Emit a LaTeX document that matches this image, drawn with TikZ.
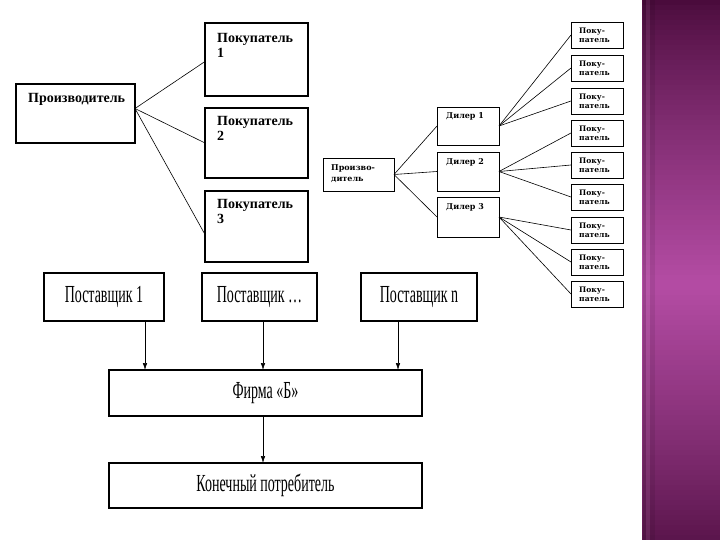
\documentclass[tikz,border=0pt]{standalone}
\usepackage{fontspec}
\setmainfont{Liberation Serif}
\newfontfamily\dvs{DejaVu Serif}
\usetikzlibrary{arrows.meta,calc}
\definecolor{bandDark}{RGB}{72,10,58}
\definecolor{bandBright}{RGB}{180,76,164}
\tikzset{
  box/.style={draw, line width=1.1pt, inner sep=0pt, outer sep=0pt, anchor=north west},
  sbox/.style={draw, line width=0.8pt, inner sep=0pt, outer sep=0pt, anchor=north west, minimum width=52pt, minimum height=26pt},
  conn/.style={line width=0.6pt},
  arr/.style={line width=0.6pt, -{Latex[length=7pt,width=4.5pt]}},
  bigtxt/.style={inner sep=0pt, anchor=north west, align=left, font=\fontsize{14}{15}\selectfont\bfseries},
  midtxt/.style={inner sep=0pt, anchor=north west, align=left, font=\dvs\fontsize{8}{11.5}\selectfont\bfseries},
  smtxt/.style={inner sep=0pt, anchor=north west, align=left, font=\dvs\fontsize{7.6}{9}\selectfont\bfseries},
  lowbox/.style={draw, line width=1.1pt, inner sep=0pt, outer sep=0pt, anchor=north west, minimum height=48pt, font=\fontsize{14}{14}\selectfont}
}
\newcommand{\tall}[1]{\scalebox{1.0}[1.75]{#1}}
\begin{document}
\begin{tikzpicture}[x=1pt,y=-1pt]
\useasboundingbox (0,0) rectangle (720,540);
\fill[white] (0,0) rectangle (720,540);
% purple band
\foreach \i in {0,...,107}{
  \pgfmathsetmacro{\p}{max(0,100*(1-abs(\i*5+2.5-285)/285)^0.8)}
  \fill[bandBright!\p!bandDark] (642,\i*5) rectangle (720,\i*5+5.4);
}
\fill[black,opacity=0.12] (643,0) rectangle (646,540);
\fill[white,opacity=0.06] (646,0) rectangle (650,540);
\fill[black,opacity=0.08] (650,0) rectangle (655,540);

% ---- left top diagram ----
\node[box, minimum width=119pt, minimum height=59pt] (P) at (16,84) {};
\node[bigtxt] (Pt) at (28,93) {Производитель};
\node[box, minimum width=103pt, minimum height=73pt] (B1) at (205,23) {};
\node[box, minimum width=103pt, minimum height=70pt] (B2) at (205,108) {};
\node[box, minimum width=103pt, minimum height=71pt] (B3) at (205,191) {};
\node[bigtxt] (B1t) at (217,33) {Покупатель\\1};
\node[bigtxt] (B2t) at (217,116) {Покупатель\\2};
\node[bigtxt] (B3t) at (217,199) {Покупатель\\3};
\coordinate (Po) at ([yshift=5pt]P.east);
\draw[conn] (Po) -- ([yshift=-2pt]B1.west);
\draw[conn] (Po) -- (B2.west);
\draw[conn] (Po) -- ([yshift=-8pt]B3.west);

% ---- right top diagram ----
\node[box, line width=0.8pt, minimum width=71pt, minimum height=33pt] (Q) at (323,158) {};
\node[midtxt] (Qt) at (331,164) {Произво-\\дитель};
\node[box, line width=0.8pt, minimum width=62pt, minimum height=38pt] (D1) at (437,107) {};
\node[box, line width=0.8pt, minimum width=62pt, minimum height=39pt] (D2) at (437,152) {};
\node[box, line width=0.8pt, minimum width=62pt, minimum height=40pt] (D3) at (437,197) {};
\node[midtxt] (D1t) at (446,112) {Дилер 1};
\node[midtxt] (D2t) at (446,158) {Дилер 2};
\node[midtxt] (D3t) at (446,203) {Дилер 3};
\draw[conn] (Q.east) -- (D1.west);
\draw[conn] (Q.east) -- (D2.west);
\draw[conn] (Q.east) -- (D3.west);
\foreach \i/\y in {1/22,2/55,3/88,4/120,5/152,6/184,7/217,8/249,9/281}{
  \node[sbox] (C\i) at (571,\y) {};
  \node[smtxt] (C\i t) at (579,\y+6) {Поку-\\патель};
}
\foreach \i in {1,2,3}{\draw[conn] (D1.east) -- (C\i.west);}
\foreach \i in {4,5,6}{\draw[conn] (D2.east) -- (C\i.west);}
\foreach \i in {7,8,9}{\draw[conn] (D3.east) -- (C\i.west);}

% ---- bottom diagram ----
\node[lowbox, minimum width=120pt] (S1) at (44,273) {\tall{Поставщик 1}};
\node[lowbox, minimum width=115pt] (S2) at (202,273) {\tall{Поставщик \dots}};
\node[lowbox, minimum width=116pt] (S3) at (361,273) {\tall{Поставщик n}};
\node[lowbox, minimum width=313pt, minimum height=46pt] (F) at (109,370) {\tall{Фирма «Б»}};
\node[lowbox, minimum width=313pt, minimum height=45pt] (K) at (109,463) {\tall{Конечный потребитель}};
\coordinate (a1) at (145,0);
\coordinate (a2) at (263,0);
\coordinate (a3) at (398,0);
\draw[arr] (S1.south -| a1) -- (F.north -| a1);
\draw[arr] (S2.south -| a2) -- (F.north -| a2);
\draw[arr] (S3.south -| a3) -- (F.north -| a3);
\draw[arr] (F.south -| a2) -- (K.north -| a2);
\end{tikzpicture}
\end{document}
